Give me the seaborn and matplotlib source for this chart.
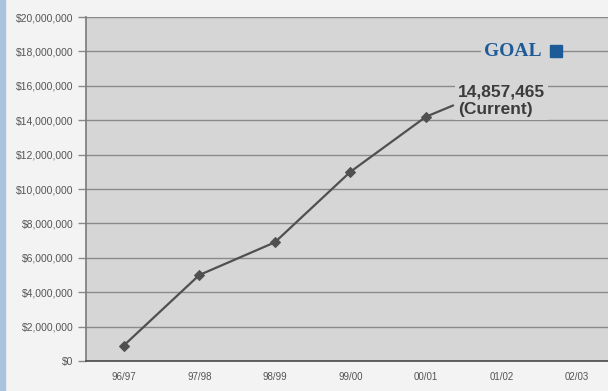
import matplotlib
matplotlib.use("Agg")
import matplotlib.pyplot as plt
from matplotlib.patches import Rectangle
from matplotlib.ticker import FuncFormatter, MultipleLocator
import pandas as pd
import seaborn as sns

# fiscal years on the x axis
seasons = ["96/97", "97/98", "98/99", "99/00", "00/01", "01/02", "02/03"]
# raised at year end
raised = [900000, 5000000, 6900000, 11000000, 14200000]
# running total partway into 01/02
current_pos = 4.36
current_total = 14857465
goal_total = 18000000

df = pd.DataFrame({"pos": range(len(raised)), "raised": raised})

sns.set_style("white")
plt.rcParams["font.family"] = ["Liberation Sans", "DejaVu Sans"]

fig = plt.figure(figsize=(6.08, 3.91), dpi=100, facecolor="#f3f3f3")
fig.patches.append(Rectangle((0, 0), 5 / 608, 1, transform=fig.transFigure,
                             color="#a9c3df", zorder=0))

ax = fig.add_axes([86 / 608, 30 / 391, 1 - 86 / 608, 344 / 391])
ax.set_facecolor("#d6d6d6")

# year-end points
sns.lineplot(data=df, x="pos", y="raised", ax=ax, color="#505050",
             marker="D", markersize=5.5, markeredgecolor="#505050",
             linewidth=1.6, zorder=3)
# segment up to the current total
ax.plot([df["pos"].iloc[-1], current_pos], [raised[-1], current_total],
        color="#505050", linewidth=1.6, zorder=3)

ax.set_xlim(-0.5, 6.41)
ax.set_ylim(0, 20000000)
ax.set_xticks(range(len(seasons)))
ax.set_xticklabels(seasons)
ax.yaxis.set_major_locator(MultipleLocator(2000000))
ax.yaxis.set_major_formatter(FuncFormatter(lambda v, p: f"${v:,.0f}"))
ax.grid(axis="y", color="#8a8a8a", linewidth=1)
ax.set_axisbelow(True)
ax.set_xlabel("")
ax.set_ylabel("")

ax.tick_params(axis="y", length=6, width=1, color="#8a8a8a", labelsize=7.5,
               labelcolor="#555555", pad=3, left=True)
ax.tick_params(axis="x", length=0, labelsize=7, labelcolor="#555555", pad=8)

for side in ["top", "right"]:
    ax.spines[side].set_visible(False)
ax.spines["left"].set_color("#7a7a7a")
ax.spines["bottom"].set_color("#4a4a4a")
ax.spines["left"].set_linewidth(1.2)
ax.spines["bottom"].set_linewidth(1.2)

# current total label
ax.text(current_pos + 0.06, current_total + 250000, f"{current_total:,}\n(Current)",
        fontsize=12.5, fontweight="bold", color="#3c3c3c",
        ha="left", va="center", linespacing=1.2,
        bbox=dict(facecolor="#d6d6d6", edgecolor="none", pad=2))

# goal marker (trailing space keeps the gridline clear up to the square)
ax.text(5.64, goal_total, "GOAL  ", fontsize=14, fontweight="bold",
        color="#1d5a98", ha="right", va="center",
        family=["Liberation Serif", "DejaVu Serif"],
        bbox=dict(facecolor="#d6d6d6", edgecolor="none", pad=2))
ax.plot([5.72], [goal_total], marker="s", markersize=9,
        color="#1d5a98", linestyle="none", zorder=4)

fig.savefig("out.png", dpi=100, facecolor=fig.get_facecolor())
